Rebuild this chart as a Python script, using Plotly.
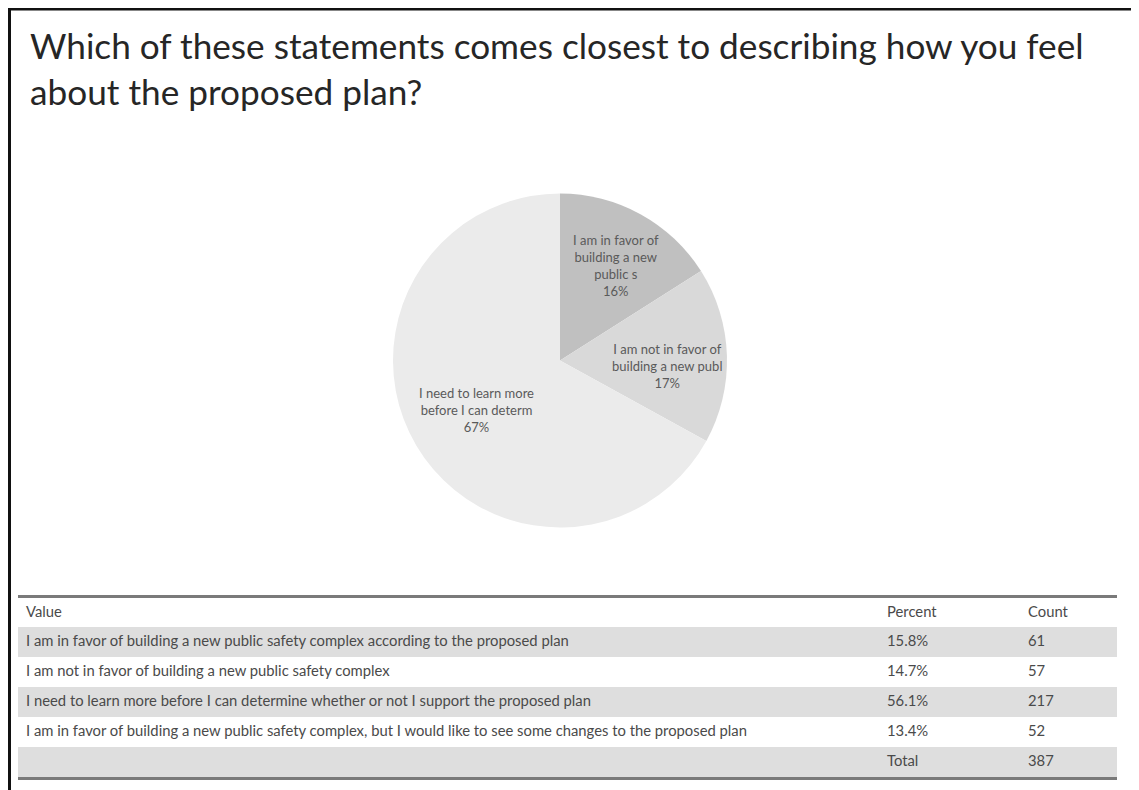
import math
import plotly.graph_objects as go

# Page/window geometry: the figure sits inside the page body (8px body margin)
WIN_W, WIN_H = 1139, 790
OFF = 8
FW, FH = WIN_W - OFF, WIN_H - OFF

# Pie data (as shown in the chart)
pie_labels = ["I am in favor of<br>building a new<br>public s",
              "I am not in favor of<br>building a new publ",
              "I need to learn more<br>before I can determ"]
pie_values = [16, 17, 67]
pie_colors = ["#c0c0c0", "#d9d9d9", "#ebebeb"]

# Table data
tbl_headers = ["Value", "Percent", "Count"]
tbl_values = ["I am in favor of building a new public safety complex according to the proposed plan",
              "I am not in favor of building a new public safety complex",
              "I need to learn more before I can determine whether or not I support the proposed plan",
              "I am in favor of building a new public safety complex, but I would like to see some changes to the proposed plan",
              ""]
tbl_percent = ["15.8%", "14.7%", "56.1%", "13.4%", "Total"]
tbl_count = ["61", "57", "217", "52", "387"]

title_text = "Which of these statements comes closest to describing how you feel<br>about the proposed plan?"


def px(x):
    return (x - OFF) / FW


def py(y):
    return 1 - (y - OFF) / FH


fig = go.Figure()

# Pie geometry (window px)
PL, PR, PT, PB = 393, 727, 193, 528
fig.add_trace(go.Pie(
    labels=pie_labels, values=pie_values, sort=False, direction="clockwise",
    rotation=0, marker=dict(colors=pie_colors, line=dict(width=0)),
    textinfo="none", showlegend=False, hoverinfo="skip",
    domain=dict(x=[px(PL), px(PR)], y=[py(PB), py(PT)]),
))

# Data labels placed along each slice's bisector (derived from the values)
cx, cy = (PL + PR) / 2, (PT + PB) / 2
R = (PR - PL) / 2
total = sum(pie_values)
cum = 0
annotations = []
label_radius = [0.66, 0.64, 0.58]
label_turn = [0.03, 0.08, 0.0]
for lab, v, lr, lt in zip(pie_labels, pie_values, label_radius, label_turn):
    mid = (cum + v / 2) / total * 2 * math.pi + lt
    cum += v
    lx = cx + lr * R * math.sin(mid)
    ly = cy - lr * R * math.cos(mid)
    annotations.append(dict(
        text=f"{lab}<br>{round(v / total * 100)}%", x=px(lx), y=py(ly),
        xref="paper", yref="paper", xanchor="center", yanchor="middle",
        showarrow=False, align="center",
        font=dict(family="Lato", size=13, color="#5a5a5a")))

row_fill = ["#dedede", "#ffffff", "#dedede", "#ffffff", "#dedede"]
fig.add_trace(go.Table(
    domain=dict(x=[px(18), px(1117)], y=[py(778), py(598)]),
    columnwidth=[861, 141, 97],
    header=dict(values=tbl_headers, fill_color="white", line=dict(width=0, color="white"),
                align="left", height=29,
                font=dict(family="Lato", size=14.8, color="#4a4a4a")),
    cells=dict(values=[tbl_values, tbl_percent, tbl_count],
               fill_color=[row_fill, row_fill, row_fill],
               line=dict(width=0, color="white"), align="left", height=30,
               font=dict(family="Lato", size=14.8, color="#4a4a4a")),
))

shapes = [
    dict(type="rect", xref="paper", yref="paper", x0=px(9.5), x1=px(1135.5), y0=py(830), y1=py(9),
         line=dict(color="#111111", width=3), fillcolor="rgba(0,0,0,0)"),
    dict(type="line", xref="paper", yref="paper", x0=px(18), x1=px(1117), y0=py(596.5), y1=py(596.5),
         line=dict(color="#7a7a7a", width=3)),
    dict(type="line", xref="paper", yref="paper", x0=px(18), x1=px(1117), y0=py(778.5), y1=py(778.5),
         line=dict(color="#7a7a7a", width=3)),
]

annotations.append(dict(text=title_text, x=px(28), y=py(22), xref="paper", yref="paper",
                        xanchor="left", yanchor="top", align="left", showarrow=False,
                        font=dict(family="Lato", size=35.2, color="#262626")))

fig.update_layout(
    width=FW, height=FH, margin=dict(l=0, r=0, t=0, b=0),
    paper_bgcolor="white", plot_bgcolor="white",
    shapes=shapes, annotations=annotations,
)

fig.write_html("out.html")
